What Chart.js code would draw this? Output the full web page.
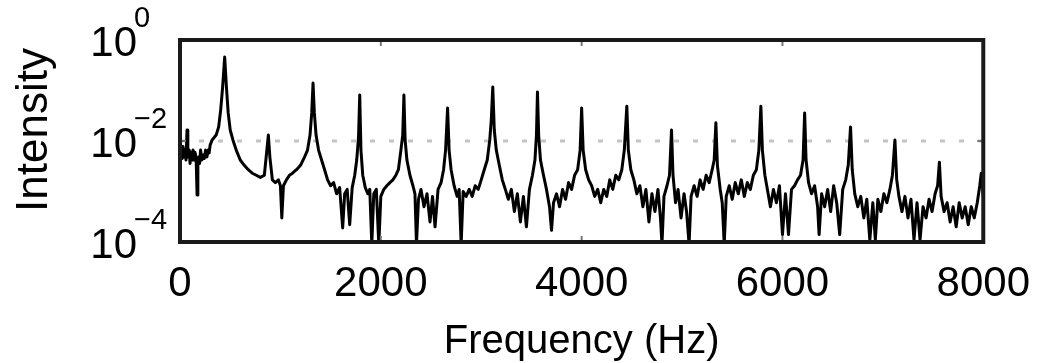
<!DOCTYPE html>
<html>
<head>
<meta charset="utf-8">
<script src="https://cdn.jsdelivr.net/npm/chart.js@4/dist/chart.umd.min.js"></script>
<style>
  html, body { margin: 0; padding: 0; background: #fff; }
  canvas { display: block; }
</style>
</head>
<body>
<canvas id="spectrum" width="1047" height="363"></canvas>
<script>
// spectrum (Hz, intensity)
const freqHz = [
  0, 8, 15, 22, 30, 40, 50, 60, 70, 78, 85, 92, 100, 110, 120, 130, 140, 148, 155, 162, 170, 178, 185, 195, 205, 218, 230, 242, 255, 268, 280, 290, 300, 320,
  360, 385, 405, 425, 445, 462, 480, 500, 527, 560, 600, 640, 680, 720, 760, 800, 840,
  865, 880, 895, 920, 950, 980, 1000, 1014, 1030, 1060, 1090, 1120, 1160, 1200, 1240,
  1270, 1295, 1312, 1325, 1338, 1355, 1380, 1410, 1440, 1470, 1500, 1530, 1560, 1590,
  1620, 1640, 1665, 1690, 1715, 1740, 1760, 1778, 1790, 1802, 1820, 1845, 1870, 1890,
  1910, 1930, 1955, 1980, 2000, 2030, 2060, 2090, 2120, 2150, 2175, 2200, 2218, 2230,
  2242, 2260, 2290, 2320, 2340, 2355, 2375, 2400, 2430, 2460, 2490, 2515, 2540, 2570,
  2600, 2625, 2645, 2665, 2680, 2700, 2730, 2760, 2780, 2800, 2820, 2850, 2880, 2910,
  2940, 2970, 3000, 3030, 3060, 3085, 3100, 3115, 3130, 3150, 3180, 3210, 3240, 3270,
  3300, 3330, 3360, 3390, 3420, 3450, 3480, 3510, 3535, 3550, 3560, 3572, 3590, 3620,
  3650, 3680, 3700, 3720, 3750, 3780, 3810, 3840, 3870, 3900, 3930, 3960, 3985, 4000,
  4015, 4040, 4070, 4100, 4130, 4160, 4190, 4220, 4250, 4280, 4310, 4340, 4370, 4400,
  4425, 4450, 4465, 4490, 4520, 4550, 4580, 4610, 4640, 4670, 4700, 4730, 4760, 4785,
  4800, 4820, 4850, 4875, 4895, 4910, 4935, 4960, 4990, 5020, 5045, 5070, 5090, 5120,
  5150, 5180, 5210, 5240, 5270, 5300, 5320, 5337, 5352, 5380, 5400, 5420, 5440, 5470,
  5500, 5530, 5560, 5590, 5620, 5650, 5680, 5710, 5740, 5765, 5785, 5800, 5825, 5850,
  5880, 5910, 5940, 5970, 6000, 6030, 6060, 6090, 6120, 6150, 6180, 6205, 6221, 6235,
  6260, 6290, 6320, 6350, 6365, 6390, 6420, 6450, 6480, 6510, 6540, 6570, 6600, 6630,
  6655, 6678, 6695, 6720, 6750, 6780, 6810, 6840, 6870, 6900, 6925, 6950, 6980, 7010,
  7040, 7070, 7095, 7120, 7138, 7160, 7190, 7220, 7250, 7280, 7310, 7340, 7370, 7400,
  7430, 7460, 7490, 7520, 7545, 7563, 7580, 7610, 7640, 7670, 7700, 7730, 7760, 7790,
  7820, 7850, 7880, 7910, 7940, 7965, 7980, 8000
];
const intensity = [
  0.0083, 0.0048, 0.0075, 0.0045, 0.0078, 0.0048, 0.0066, 0.0042, 0.0165, 0.006, 0.0048, 0.0066, 0.0036, 0.006, 0.0042, 0.0066, 0.0042, 0.006, 0.0053, 0.0036, 0.00085, 0.0033, 0.0048, 0.0036, 0.0066, 0.0042, 0.0053, 0.0045, 0.0066, 0.0048, 0.0066, 0.0058, 0.0083, 0.0105,
  0.0131, 0.019, 0.041, 0.12, 0.46, 0.12, 0.036, 0.0165, 0.0105, 0.0066, 0.0042, 0.0033, 0.0027, 0.0023, 0.0021, 0.0019, 0.0021,
  0.0066, 0.0131, 0.0048, 0.0017, 0.0015, 0.0017, 0.0013, 0.0003, 0.0013, 0.0017, 0.0021, 0.0023, 0.0027, 0.0033, 0.0048,
  0.0066, 0.0131, 0.036, 0.141, 0.036, 0.0131, 0.0066, 0.0042, 0.0027, 0.0017, 0.0013, 0.0015, 0.0009, 0.0012,
  0.00019, 0.0009, 0.0011, 0.00022, 0.0012, 0.0021, 0.0042, 0.012, 0.081, 0.0066, 0.0021, 0.0012, 0.0009, 0.0011,
  0.00009, 0.0009, 0.0011, 0.00009, 0.0008, 0.0011, 0.0013, 0.0015, 0.0017, 0.0021, 0.0027, 0.0066, 0.0131, 0.081,
  0.0105, 0.0042, 0.0021, 0.0013, 0.0009, 0.00009, 0.0007, 0.0011, 0.0005, 0.0009, 0.00025, 0.0008, 0.0002, 0.0011,
  0.0015, 0.0027, 0.0066, 0.045, 0.0066, 0.0027, 0.0013, 0.0008, 0.0011, 0.00009, 0.001, 0.0008, 0.0011, 0.0008,
  0.0013, 0.0011, 0.0017, 0.0027, 0.0042, 0.0105, 0.026, 0.117, 0.0165, 0.0066, 0.0033, 0.0017, 0.0011, 0.0007,
  0.0011, 0.0004, 0.0009, 0.00025, 0.0008, 0.0002, 0.0011, 0.0021, 0.0042, 0.0131, 0.093, 0.0131, 0.0042, 0.0021,
  0.0011, 0.0005, 0.00017, 0.0006, 0.0009, 0.0005, 0.0011, 0.0007, 0.0015, 0.0011, 0.0021, 0.0027, 0.0066, 0.045,
  0.0066, 0.0027, 0.0017, 0.0013, 0.0008, 0.0011, 0.0006, 0.0011, 0.0008, 0.0017, 0.0011, 0.0021, 0.0017, 0.0027,
  0.0066, 0.049, 0.0066, 0.0027, 0.0017, 0.0009, 0.0013, 0.0005, 0.0011, 0.00025, 0.0009, 0.0004, 0.0011, 0.0003,
  0.00009, 0.0008, 0.0013, 0.0021, 0.0165, 0.0021, 0.0006, 0.0011, 0.0003, 0.0009, 0.0004, 0.00009, 0.0008, 0.0013,
  0.0008, 0.0017, 0.0011, 0.0021, 0.0015, 0.0027, 0.0042, 0.023, 0.0033, 0.0011, 0.0006, 0.00009, 0.0008, 0.0013,
  0.0007, 0.0015, 0.0009, 0.0017, 0.0008, 0.0015, 0.0011, 0.0021, 0.0027, 0.0066, 0.049, 0.0066, 0.0021, 0.0011,
  0.0005, 0.0011, 0.0006, 0.0013, 0.00014, 0.0009, 0.00014, 0.0011, 0.0013, 0.0017, 0.0021, 0.0042, 0.036, 0.0042,
  0.0015, 0.0009, 0.0013, 0.0005, 0.00014, 0.0009, 0.0005, 0.0011, 0.0004, 0.0013, 0.0006, 0.00014, 0.0011, 0.0017,
  0.0033, 0.019, 0.0027, 0.0009, 0.0005, 0.0008, 0.0003, 0.0007, 0.00011, 0.0006, 0.00011, 0.0007, 0.0004, 0.0009,
  0.0006, 0.0011, 0.0021, 0.0105, 0.0017, 0.0008, 0.0004, 0.0008, 0.0003, 0.0007, 0.00011, 0.0006, 0.00011, 0.0005,
  0.0003, 0.0007, 0.0004, 0.0009, 0.0013, 0.0038, 0.0008, 0.0004, 0.0006, 0.00025, 0.0005, 0.0002, 0.0006, 0.0003,
  0.0005, 0.00022, 0.0005, 0.0003, 0.0006, 0.0013, 0.0023, 0.0008
];
const xTicks = [0, 2000, 4000, 6000, 8000];
const yExponents = [0, -2, -4];
const gridExponent = -2;

const FONT = '"Liberation Sans", Arial, Helvetica, sans-serif';

// frame, inner ticks, dotted grid line, axis labels with superscripts
const decorations = {
  id: 'decorations',
  beforeDatasetsDraw(chart) {
    const { ctx, chartArea: a } = chart;
    const yScale = chart.scales.y;
    const gy = yScale.getPixelForValue(Math.pow(10, gridExponent));
    ctx.save();
    ctx.strokeStyle = '#c4c4c4';
    ctx.lineWidth = 3;
    ctx.setLineDash([5, 14]);
    ctx.beginPath();
    ctx.moveTo(a.left, gy);
    ctx.lineTo(a.right, gy);
    ctx.stroke();
    ctx.restore();
  },
  afterDraw(chart) {
    const { ctx, chartArea: a } = chart;
    const xScale = chart.scales.x;
    const yScale = chart.scales.y;
    ctx.save();

    // inner tick marks
    ctx.strokeStyle = '#777';
    ctx.lineWidth = 2;
    ctx.beginPath();
    xTicks.slice(1, -1).forEach(v => {
      const x = xScale.getPixelForValue(v);
      ctx.moveTo(x, a.top); ctx.lineTo(x, a.top + 6);
      ctx.moveTo(x, a.bottom); ctx.lineTo(x, a.bottom - 6);
    });
    const gy = yScale.getPixelForValue(Math.pow(10, gridExponent));
    ctx.moveTo(a.left, gy); ctx.lineTo(a.left + 6, gy);
    ctx.moveTo(a.right, gy); ctx.lineTo(a.right - 6, gy);
    ctx.stroke();

    // frame
    ctx.strokeStyle = '#1a1a1a';
    ctx.lineWidth = 4;
    ctx.strokeRect(a.left, a.top, a.right - a.left, a.bottom - a.top);

    // y tick labels 10^n
    ctx.fillStyle = '#000';
    ctx.textBaseline = 'alphabetic';
    yExponents.forEach(e => {
      const y = yScale.getPixelForValue(Math.pow(10, e));
      ctx.font = '42px ' + FONT;
      ctx.textAlign = 'right';
      ctx.fillText('10', 137, y + 16);
      ctx.font = '29px ' + FONT;
      ctx.textAlign = 'left';
      ctx.fillText(e < 0 ? '\u2212' + (-e) : String(e), 134, y - 13);
    });

    // axis titles
    ctx.font = '40px ' + FONT;
    ctx.textAlign = 'center';
    ctx.fillText('Frequency (Hz)', (a.left + a.right) / 2, 353);

    ctx.translate(47, 130);
    ctx.rotate(-Math.PI / 2);
    ctx.font = '44px ' + FONT;
    ctx.fillText('Intensity', 0, 0);
    ctx.restore();
  }
};

const ctx = document.getElementById('spectrum').getContext('2d');
const spectrum = new Chart(ctx, {
  type: 'line',
  data: {
    datasets: [{
      label: 'Intensity',
      data: freqHz.map((f, i) => ({ x: f, y: intensity[i] })),
      borderColor: '#000',
      borderWidth: 3,
      borderJoinStyle: 'round',
      pointRadius: 0,
      tension: 0
    }]
  },
  options: {
    responsive: false,
    animation: false,
    devicePixelRatio: 1,
    layout: { padding: { top: 40, right: 62, left: 0, bottom: 0 } },
    plugins: {
      legend: { display: false },
      tooltip: { enabled: false }
    },
    scales: {
      x: {
        type: 'linear',
        min: 0,
        max: 8000,
        afterBuildTicks: s => { s.ticks = xTicks.map(v => ({ value: v })); },
        afterFit: s => { s.height = 121; },
        grid: { display: false, drawTicks: false },
        border: { display: false },
        ticks: {
          color: '#000',
          padding: 17,
          maxRotation: 0,
          font: { size: 42, family: FONT },
          callback: v => String(v)
        }
      },
      y: {
        type: 'logarithmic',
        min: 1e-4,
        max: 1,
        afterFit: s => { s.width = 180; },
        grid: { display: false, drawTicks: false },
        border: { display: false },
        ticks: { display: false }
      }
    }
  },
  plugins: [decorations]
});
</script>
</body>
</html>
